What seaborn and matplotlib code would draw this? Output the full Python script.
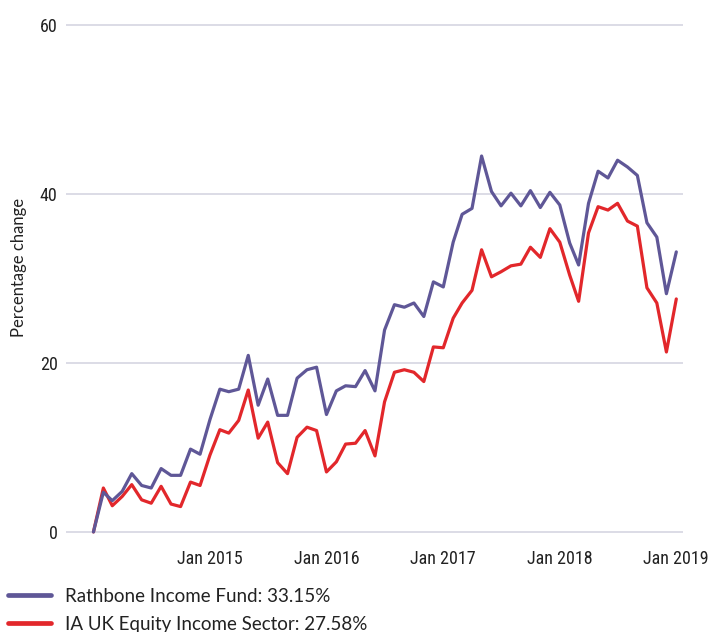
import numpy as np
import pandas as pd
import matplotlib
matplotlib.use("Agg")
import matplotlib.pyplot as plt
from matplotlib.lines import Line2D
from matplotlib import font_manager
import seaborn as sns

# ---- data ----
dates = pd.date_range("2014-01-01", periods=61, freq="MS")
rathbone = [0, 4.7, 3.7, 4.8, 6.9, 5.5, 5.2, 7.5, 6.7, 6.7, 9.8, 9.2,
            13.3, 16.9, 16.6, 16.9, 20.9, 15.0, 18.1, 13.8, 13.8, 18.2, 19.2, 19.5,
            13.9, 16.7, 17.3, 17.2, 19.1, 16.7, 23.9, 26.9, 26.6, 27.1, 25.5, 29.6,
            29.0, 34.3, 37.6, 38.3, 44.5, 40.3, 38.6, 40.1, 38.6, 40.4, 38.4, 40.2,
            38.7, 34.2, 31.6, 38.9, 42.7, 41.9, 44.0, 43.2, 42.2, 36.6, 34.9, 28.2,
            33.15]
ia_sector = [0, 5.2, 3.1, 4.2, 5.6, 3.8, 3.4, 5.4, 3.3, 3.0, 5.9, 5.5,
             9.1, 12.1, 11.7, 13.2, 16.8, 11.1, 13.0, 8.2, 6.9, 11.2, 12.4, 12.0,
             7.1, 8.3, 10.4, 10.5, 12.0, 9.0, 15.4, 18.9, 19.2, 18.9, 17.8, 21.9,
             21.8, 25.3, 27.1, 28.6, 33.4, 30.2, 30.8, 31.5, 31.7, 33.7, 32.5, 35.9,
             34.3, 30.4, 27.3, 35.4, 38.5, 38.1, 38.9, 36.8, 36.2, 28.9, 27.1, 21.3,
             27.58]
series_names = ["Rathbone Income Fund: 33.15%", "IA UK Equity Income Sector: 27.58%"]
series_colors = ["#5f5797", "#e2272b"]
y_ticks = [0, 20, 40, 60]
x_tick_dates = pd.to_datetime(["2015-01-01", "2016-01-01", "2017-01-01",
                               "2018-01-01", "2019-01-01"])
x_tick_labels = ["Jan 2015", "Jan 2016", "Jan 2017", "Jan 2018", "Jan 2019"]

df = pd.DataFrame({
    "date": list(dates) * 2,
    "value": rathbone + ia_sector,
    "series": [series_names[0]] * len(dates) + [series_names[1]] * len(dates),
})

sns.set_theme(style="white")
plt.rcParams["font.family"] = ["Lato", "DejaVu Sans"]

installed = {f.name for f in font_manager.fontManager.ttflist}
if "Roboto Condensed" in installed:
    tick_family, tick_size = "Roboto Condensed", 13
else:
    tick_family, tick_size = "Lato", 11.5

fig = plt.figure(figsize=(7.1, 6.32), dpi=100)
ax = fig.add_axes([66 / 710, 1 - 537 / 632, (683 - 66) / 710, (537 - 20) / 632])

sns.lineplot(data=df, x="date", y="value", hue="series",
             hue_order=[series_names[1], series_names[0]],
             palette={series_names[0]: series_colors[0], series_names[1]: series_colors[1]},
             linewidth=2.3, ax=ax, legend=False)

ax.set_ylim(-0.6, 60.6)
ax.set_xlim(pd.Timestamp("2013-10-07"), pd.Timestamp("2019-01-22"))
ax.set_yticks(y_ticks)
ax.set_xticks(x_tick_dates)
ax.set_xticklabels(x_tick_labels)
ax.grid(axis="y", color="#dcdce6", linewidth=1.4)
ax.grid(axis="x", visible=False)
ax.set_axisbelow(True)
for s in ax.spines.values():
    s.set_visible(False)
ax.tick_params(axis="both", length=0, colors="#222222")
ax.tick_params(axis="y", pad=6)
ax.tick_params(axis="x", pad=9)
for lab in ax.get_xticklabels() + ax.get_yticklabels():
    lab.set_family(tick_family)
    lab.set_fontsize(tick_size)
ax.set_xlabel("")
ax.set_ylabel("Percentage change", fontsize=12, color="#222222")
ax.yaxis.set_label_coords(-0.063, 0.522)

handles = [Line2D([0], [0], color=c, linewidth=3.4) for c in series_colors]
fig.legend(handles, series_names, loc="upper left", bbox_to_anchor=(0.011, 0.070),
           frameon=False, fontsize=13.5, handlelength=2.3, handletextpad=0.75,
           labelspacing=0.6, borderaxespad=0, borderpad=0.0, labelcolor="#222222")

fig.savefig("out.png", dpi=100)
